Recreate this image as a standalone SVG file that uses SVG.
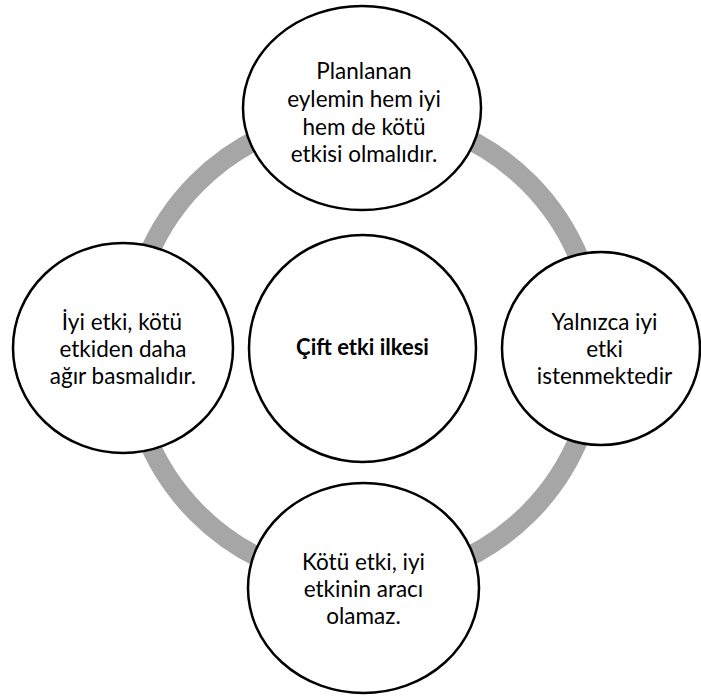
<svg xmlns="http://www.w3.org/2000/svg" width="701" height="698" viewBox="0 0 701 698">
  <style>
    .node { fill: #ffffff; stroke: #000000; stroke-width: 2.5; }
    .label { font-family: Lato, "Liberation Sans", sans-serif; font-size: 22.5px; fill: #000000; text-anchor: middle; }
    .title { font-weight: bold; font-size: 22px; }
    .ring { fill: none; stroke: #a6a6a6; stroke-width: 20; }
  </style>
  <rect width="701" height="698" fill="#ffffff"/>

  <!-- cycle ring linking the outer nodes -->
  <g id="connectors">
    <circle class="ring" cx="363" cy="348" r="234"/>
  </g>

  <g id="node-center">
    <circle class="node" cx="362.5" cy="348.5" r="113.5"/>
    <text class="label title" x="362.5" y="355">Çift etki ilkesi</text>
  </g>

  <g id="node-top">
    <ellipse class="node" cx="362" cy="108" rx="119" ry="102"/>
    <text class="label" x="364" y="79">Planlanan</text>
    <text class="label" x="364" y="107">eylemin hem iyi</text>
    <text class="label" x="364" y="135">hem de kötü</text>
    <text class="label" x="364" y="162">etkisi olmalıdır.</text>
  </g>

  <g id="node-right">
    <ellipse class="node" cx="601" cy="348.5" rx="99" ry="96.5"/>
    <text class="label" x="604.5" y="330">Yalnızca iyi</text>
    <text class="label" x="604.5" y="357">etki</text>
    <text class="label" x="604.5" y="384">istenmektedir</text>
  </g>

  <g id="node-bottom">
    <ellipse class="node" cx="363.5" cy="588" rx="115.5" ry="105"/>
    <text class="label" x="363.5" y="570">Kötü etki, iyi</text>
    <text class="label" x="363.5" y="597">etkinin aracı</text>
    <text class="label" x="363.5" y="624">olamaz.</text>
  </g>

  <g id="node-left">
    <ellipse class="node" cx="123" cy="348" rx="110" ry="105"/>
    <text class="label" x="122" y="330">İyi etki, kötü</text>
    <text class="label" x="123" y="357">etkiden daha</text>
    <text class="label" x="123" y="384">ağır basmalıdır.</text>
  </g>
</svg>
